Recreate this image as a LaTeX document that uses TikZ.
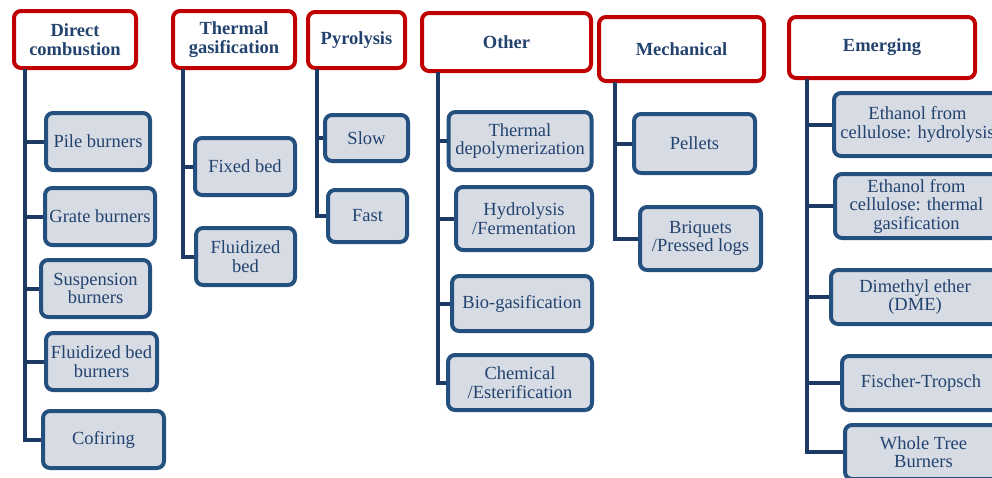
\documentclass[tikz,border=0pt]{standalone}
\usepackage{fontspec}
\setmainfont{Liberation Serif}
\definecolor{hred}{HTML}{C00000}
\definecolor{bblue}{HTML}{24507F}
\definecolor{bfill}{HTML}{D6DBE4}
\definecolor{tblue}{HTML}{23436F}
\definecolor{trunkc}{HTML}{1C3A63}
\tikzset{
  head/.style={draw=hred, line width=4, rounded corners=7, fill=white, text=tblue,
    font=\bfseries\fontsize{18.5}{19}\selectfont, align=center, inner sep=0},
  leaf/.style={draw=bblue, line width=4, rounded corners=7, fill=bfill, text=tblue,
    font=\fontsize{18.5}{18.5}\selectfont, align=center, inner sep=0},
  trunk/.style={draw=trunkc, line width=4}
}
\begin{document}
\begin{tikzpicture}[x=1pt, y=-1pt]
\useasboundingbox (0,0) rectangle (992,477);
\clip (0,0) rectangle (992,477);
% trunk start coordinates
\coordinate (t1) at (25,69);
\coordinate (t2) at (183,69);
\coordinate (t3) at (317,69);
\coordinate (t4) at (438,72);
\coordinate (t5) at (615,82);
\coordinate (t6) at (807,79);
% headers
\node[head, minimum width=122, minimum height=57] (h1) at (75,39.5) {Direct\\combustion};
\node[head, minimum width=122, minimum height=57] (h2) at (234,39.5) {Thermal\\gasification};
\node[head, minimum width=97, minimum height=56] (h3) at (356.5,40) {Pyrolysis};
\node[head, minimum width=169, minimum height=58] (h4) at (506.5,42) {Other};
\node[head, minimum width=165, minimum height=64] (h5) at (681.5,49) {Mechanical};
\node[head, minimum width=186, minimum height=61] (h6) at (882,47.5) {Emerging};
% direct combustion
\node[leaf, minimum width=104, minimum height=57] (c11) at (98,141.5) {Pile burners};
\node[leaf, minimum width=110, minimum height=57] (c12) at (100,216.5) {Grate burners};
\node[leaf, minimum width=109, minimum height=57] (c13) at (95.5,288.5) {Suspension\\burners};
\node[leaf, minimum width=111, minimum height=57] (c14) at (101.5,361.5) {Fluidized bed\\burners};
\node[leaf, minimum width=121, minimum height=57] (c15) at (103.5,439.5) {Cofiring};
% thermal gasification
\node[leaf, minimum width=100, minimum height=57] (c21) at (245,166.5) {Fixed bed};
\node[leaf, minimum width=99, minimum height=57] (c22) at (245.5,256.5) {Fluidized\\bed};
% pyrolysis
\node[leaf, minimum width=83, minimum height=46] (c31) at (366.5,138) {Slow};
\node[leaf, minimum width=79, minimum height=52] (c32) at (367.5,216) {Fast};
% other
\node[leaf, minimum width=143, minimum height=58] (c41) at (520,141) {Thermal\\depolymerization};
\node[leaf, minimum width=136, minimum height=63] (c42) at (524,218.5) {Hydrolysis\\/Fermentation};
\node[leaf, minimum width=140, minimum height=55] (c43) at (522,303.5) {Bio-gasification};
\node[leaf, minimum width=144, minimum height=55] (c44) at (520,382.5) {Chemical\\/Esterification};
% mechanical
\node[leaf, minimum width=121, minimum height=59] (c51) at (694.5,143.5) {Pellets};
\node[leaf, minimum width=121, minimum height=63] (c52) at (700.5,238.5) {Briquets\\/Pressed logs};
% emerging
\node[leaf, minimum width=167, minimum height=63] (c61) at (917.5,124.5) {Ethanol from\\cellulose: hydrolysis};
\node[leaf, minimum width=163, minimum height=64] (c62) at (916.5,206) {Ethanol from\\cellulose: thermal\\gasification};
\node[leaf, minimum width=168, minimum height=54] (c63) at (915,297) {Dimethyl ether\\(DME)};
\node[leaf, minimum width=158, minimum height=54] (c64) at (921,383) {Fischer-Tropsch};
\node[leaf, minimum width=157, minimum height=54] (c65) at (923.5,452) {Whole Tree\\Burners};
% trunks (down to the last child)
\draw[trunk] (t1) |- (c15.west);
\draw[trunk] (t2) |- (c22.west);
\draw[trunk] (t3) |- (c32.west);
\draw[trunk] (t4) |- (c44.west);
\draw[trunk] (t5) |- (c52.west);
\draw[trunk] (t6) |- (c65.west);
% branches
\foreach \c/\t in {c11/t1,c12/t1,c13/t1,c14/t1,c21/t2,c31/t3,
  c41/t4,c42/t4,c43/t4,c51/t5,c61/t6,c62/t6,c63/t6,c64/t6}
  \draw[trunk] (\t |- \c.west) -- (\c.west);
\end{tikzpicture}
\end{document}
